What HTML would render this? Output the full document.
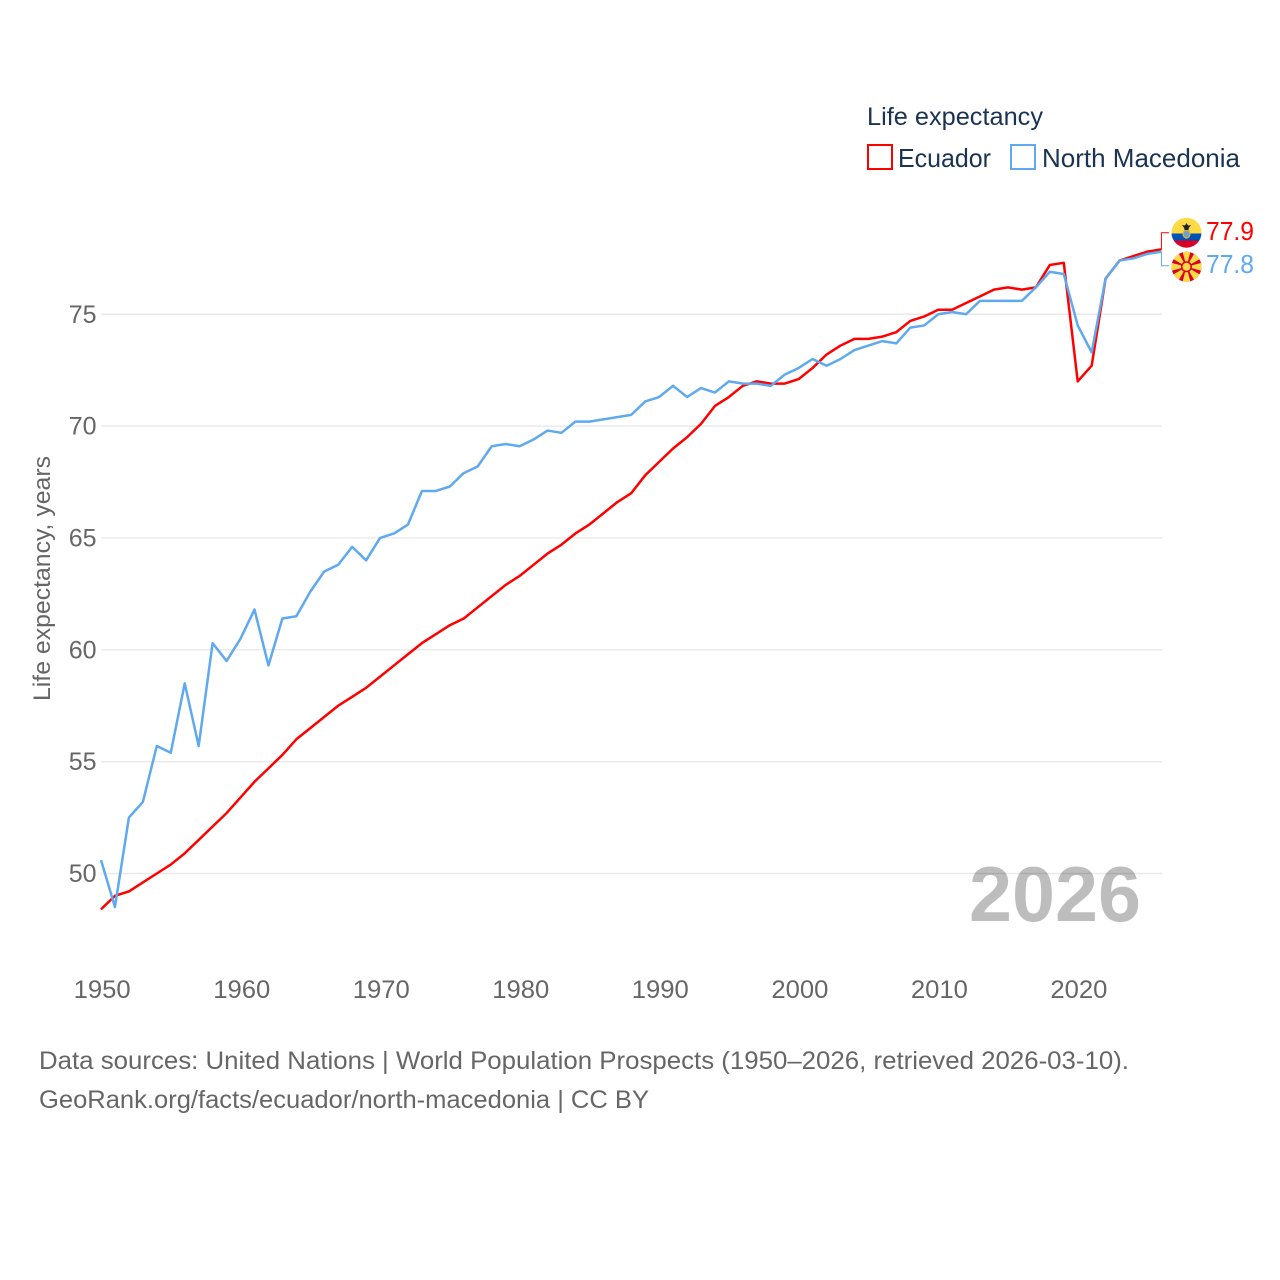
<!DOCTYPE html>
<html lang="en">
<head>
<meta charset="utf-8">
<title>Life expectancy: Ecuador and North Macedonia</title>
<style>
html,body{margin:0;padding:0;background:#fff}
svg{display:block}
text{font-family:"Liberation Sans",sans-serif}
</style>
</head>
<body>
<svg id="chart" xmlns="http://www.w3.org/2000/svg" width="1280" height="1280" viewBox="0 0 1280 1280">
  <rect width="1280" height="1280" fill="#fff"/>
  <g id="grid"></g>
  <g id="yticks"></g>
  <g id="xticks"></g>
  <text transform="translate(50,701) rotate(-90)" font-size="24" fill="#666" textLength="245" lengthAdjust="spacingAndGlyphs">Life expectancy, years</text>

  <text x="969" y="921" font-size="78" font-weight="700" fill="#000" fill-opacity="0.26" textLength="172" lengthAdjust="spacingAndGlyphs">2026</text>

  <g id="series"></g>
  <g id="connectors"></g>

  <g>
    <clipPath id="ecClip"><circle cx="1186.5" cy="232.7" r="15"/></clipPath>
    <g clip-path="url(#ecClip)">
      <rect x="1171" y="217" width="31" height="16.500" fill="#ffda44"/>
      <rect x="1171" y="233.500" width="31" height="7" fill="#0052b4"/>
      <rect x="1171" y="240.500" width="31" height="8" fill="#d80027"/>
    </g>
    <ellipse cx="1186.500" cy="234" rx="3.500" ry="4" fill="#6f9fd0" stroke="#d8b23a" stroke-width="1.200"/>
    <path d="M1182 225 L1185 225.500 L1186.500 223 L1188 225.500 L1191 225 L1188.800 228 L1188.500 230 L1184.500 230 L1184.200 228 Z" fill="#222"/>
  </g>
  <g>
    <circle cx="1186.500" cy="266.800" r="15" fill="#d80027"/>
    <clipPath id="mkClip"><circle cx="1186.500" cy="266.800" r="15"/></clipPath>
    <g clip-path="url(#mkClip)" fill="#ffda44">
      <path d="M1186.500 266.800 L1182.300 250.800 L1190.700 250.800 Z"/>
      <path d="M1186.500 266.800 L1182.300 250.800 L1190.700 250.800 Z" transform="rotate(45 1186.500 266.800)"/>
      <path d="M1186.500 266.800 L1182.300 250.800 L1190.700 250.800 Z" transform="rotate(90 1186.500 266.800)"/>
      <path d="M1186.500 266.800 L1182.300 250.800 L1190.700 250.800 Z" transform="rotate(135 1186.500 266.800)"/>
      <path d="M1186.500 266.800 L1182.300 250.800 L1190.700 250.800 Z" transform="rotate(180 1186.500 266.800)"/>
      <path d="M1186.500 266.800 L1182.300 250.800 L1190.700 250.800 Z" transform="rotate(225 1186.500 266.800)"/>
      <path d="M1186.500 266.800 L1182.300 250.800 L1190.700 250.800 Z" transform="rotate(270 1186.500 266.800)"/>
      <path d="M1186.500 266.800 L1182.300 250.800 L1190.700 250.800 Z" transform="rotate(315 1186.500 266.800)"/>
    </g>
    <circle cx="1186.500" cy="266.800" r="5.500" fill="#d80027"/>
    <circle cx="1186.500" cy="266.800" r="4" fill="#ffda44"/>
  </g>
  <text x="1206" y="240" font-size="26" fill="#ff0000" textLength="48" lengthAdjust="spacingAndGlyphs">77.9</text>
  <text x="1206" y="273" font-size="26" fill="#5ea9ef" textLength="48" lengthAdjust="spacingAndGlyphs">77.8</text>

  <text x="867" y="125" font-size="25" fill="#1a3354" textLength="176" lengthAdjust="spacingAndGlyphs">Life expectancy</text>
  <g>
    <rect x="868" y="145" width="24" height="24" fill="#fff" stroke="#ff0000" stroke-width="2"/>
    <text x="898" y="167" font-size="26" fill="#1a3354" textLength="93" lengthAdjust="spacingAndGlyphs">Ecuador</text>
  </g>
  <g>
    <rect x="1011" y="145" width="24" height="24" fill="#fff" stroke="#5ea9ef" stroke-width="2"/>
    <text x="1042" y="167" font-size="26" fill="#1a3354" textLength="198" lengthAdjust="spacingAndGlyphs">North Macedonia</text>
  </g>

  <text x="39" y="1069" font-size="25" fill="#666" textLength="1090" lengthAdjust="spacingAndGlyphs">Data sources: United Nations | World Population Prospects (1950–2026, retrieved 2026-03-10).</text>
  <text x="39" y="1108" font-size="25" fill="#666" textLength="610" lengthAdjust="spacingAndGlyphs">GeoRank.org/facts/ecuador/north-macedonia | CC BY</text>
</svg>
<script>
const startYear = 1950;
const ecuadorValues = [48.4,49.0,49.2,49.6,50.0,50.4,50.9,51.5,52.1,52.7,53.4,54.1,54.7,55.3,56.0,56.5,57.0,57.5,57.9,58.3,58.8,59.3,59.8,60.3,60.7,61.1,61.4,61.9,62.4,62.9,63.3,63.8,64.3,64.7,65.2,65.6,66.1,66.6,67.0,67.8,68.4,69.0,69.5,70.1,70.9,71.3,71.8,72.0,71.9,71.9,72.1,72.6,73.2,73.6,73.9,73.9,74.0,74.2,74.7,74.9,75.2,75.2,75.5,75.8,76.1,76.2,76.1,76.2,77.2,77.3,72.0,72.7,76.6,77.4,77.6,77.8,77.9];
const macedoniaValues = [50.6,48.5,52.5,53.2,55.7,55.4,58.5,55.7,60.3,59.5,60.5,61.8,59.3,61.4,61.5,62.6,63.5,63.8,64.6,64.0,65.0,65.2,65.6,67.1,67.1,67.3,67.9,68.2,69.1,69.2,69.1,69.4,69.8,69.7,70.2,70.2,70.3,70.4,70.5,71.1,71.3,71.8,71.3,71.7,71.5,72.0,71.9,71.9,71.8,72.3,72.6,73.0,72.7,73.0,73.4,73.6,73.8,73.7,74.4,74.5,75.0,75.1,75.0,75.6,75.6,75.6,75.6,76.2,76.9,76.8,74.5,73.3,76.6,77.4,77.5,77.7,77.8];
const yTickValues = [50,55,60,65,70,75];
const xTickValues = [1950,1960,1970,1980,1990,2000,2010,2020];

const NS = 'http://www.w3.org/2000/svg';
const xScale = function (year) { return 101 + (year - 1950) * 13.953; };
const yScale = function (v) { return 873.5 - (v - 50) * 22.37; };

const gridGroup = document.getElementById('grid');
const yGroup = document.getElementById('yticks');
const xGroup = document.getElementById('xticks');
const seriesGroup = document.getElementById('series');
const connGroup = document.getElementById('connectors');

yTickValues.forEach(function (v) {
  const line = document.createElementNS(NS, 'line');
  
  
  line.setAttribute('x1', 101);
  line.setAttribute('x2', 1162);
  line.setAttribute('y1', yScale(v));
  line.setAttribute('y2', yScale(v));
  line.setAttribute('stroke', '#e9e9e9');
  line.setAttribute('stroke-width', 1.4);
  gridGroup.appendChild(line);

  const t = document.createElementNS(NS, 'text');
  
  
  t.setAttribute('x', 96.5);
  t.setAttribute('y', yScale(v) + 8.5);
  t.setAttribute('text-anchor', 'end');
  t.setAttribute('font-size', 25);
  t.setAttribute('fill', '#666');
  t.textContent = v;
  yGroup.appendChild(t);
});

xTickValues.forEach(function (y) {
  const t = document.createElementNS(NS, 'text');
  
  
  t.setAttribute('x', xScale(y) + 1.2);
  t.setAttribute('y', 998);
  t.setAttribute('text-anchor', 'middle');
  t.setAttribute('font-size', 25);
  t.setAttribute('fill', '#666');
  t.setAttribute('textLength', 57);
  t.setAttribute('lengthAdjust', 'spacingAndGlyphs');
  t.textContent = y;
  xGroup.appendChild(t);
});

function pointsFor(values) {
  return values.map(function (v, i) {
    return xScale(startYear + i).toFixed(2) + ',' + yScale(v).toFixed(2);
  }).join(' ');
}

const ecLine = document.createElementNS(NS, 'polyline');


ecLine.setAttribute('points', pointsFor(ecuadorValues));
ecLine.setAttribute('fill', 'none');
ecLine.setAttribute('stroke', '#ff0000');
ecLine.setAttribute('stroke-width', 2.5);
ecLine.setAttribute('stroke-linejoin', 'round');
seriesGroup.appendChild(ecLine);

const mkLine = document.createElementNS(NS, 'polyline');


mkLine.setAttribute('points', pointsFor(macedoniaValues));
mkLine.setAttribute('fill', 'none');
mkLine.setAttribute('stroke', '#5ea9ef');
mkLine.setAttribute('stroke-width', 2.5);
mkLine.setAttribute('stroke-linejoin', 'round');
seriesGroup.appendChild(mkLine);

const endX = xScale(startYear + ecuadorValues.length - 1);

const ecConn = document.createElementNS(NS, 'polyline');


ecConn.setAttribute('points', endX + ',' + yScale(ecuadorValues[ecuadorValues.length - 1]) + ' ' + endX + ',232.800 1169,232.800');
ecConn.setAttribute('fill', 'none');
ecConn.setAttribute('stroke', '#ff0000');
ecConn.setAttribute('stroke-width', 1);
connGroup.appendChild(ecConn);

const mkConn = document.createElementNS(NS, 'polyline');


mkConn.setAttribute('points', endX + ',' + yScale(macedoniaValues[macedoniaValues.length - 1]) + ' ' + endX + ',265.800 1169,265.800');
mkConn.setAttribute('fill', 'none');
mkConn.setAttribute('stroke', '#5ea9ef');
mkConn.setAttribute('stroke-width', 1);
connGroup.appendChild(mkConn);
</script>
</body>
</html>
